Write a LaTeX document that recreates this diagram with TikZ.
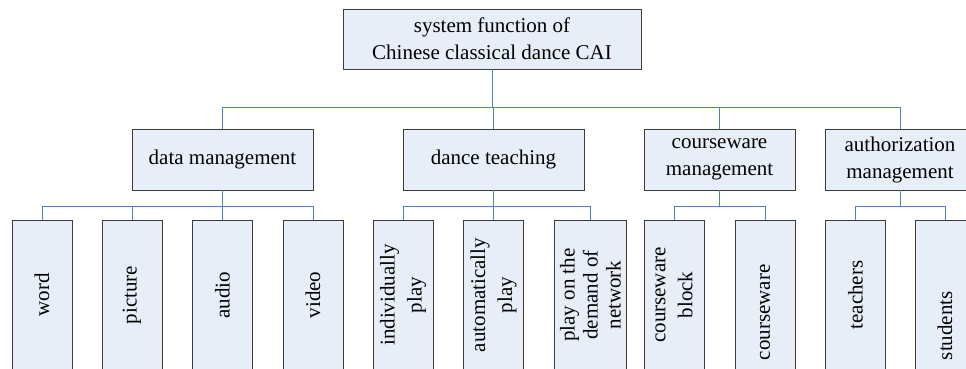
\documentclass[tikz,border=0pt]{standalone}
\usepackage{fontspec}
\setmainfont{Liberation Serif}
\usepackage{xcolor}
\usepackage{tikz}

\definecolor{boxfill}{RGB}{232,238,248}
\definecolor{boxline}{RGB}{60,60,60}
\definecolor{linkblue}{RGB}{79,129,189}

\begin{document}
\begin{tikzpicture}[x=1pt, y=1pt,
  box/.style={draw=boxline, fill=boxfill, line width=0.9pt, rectangle, align=center, inner sep=3pt, font=\fontsize{21}{27}\selectfont},
  leaf/.style={box, rotate=90, minimum width=150pt, minimum height=60pt},
  link/.style={draw=linkblue, line width=0.9pt}]
\useasboundingbox (0,0) rectangle (966,-368);
\clip (0,0) rectangle (966,-368);

% Nodes
\node[box, minimum width=298pt, minimum height=60pt] (sys) at (492,-39) {system function of\\Chinese classical dance CAI};
\node[box, minimum width=181pt, minimum height=61pt] (data) at (222.5,-159.5) {data management};
\node[box, minimum width=181pt, minimum height=61pt] (teach) at (493.5,-159.5) {dance teaching};
\node[box, minimum width=151pt, minimum height=61pt] (course) at (719.5,-159.5) {courseware\\management};
\node[box, minimum width=150pt, minimum height=61pt] (auth) at (900,-159.5) {authorization\\management};

\node[leaf] (word) at (42,-295) {word};
\node[leaf] (picture) at (132,-295) {picture};
\node[leaf] (audio) at (222.5,-295) {audio};
\node[leaf] (video) at (313,-295) {video};
\node[leaf] (indiv) at (403,-295) {individually\\play};
\node[leaf] (auto) at (493.5,-295) {automatically\\play};
\node[leaf, minimum height=72pt, font=\fontsize{21}{23}\selectfont] (demand) at (590.5,-295) {play on the\\demand of\\network};
\node[leaf] (block) at (674,-295) {courseware\\block};
\node[leaf, text width=130pt, align=left] (ware) at (765,-295) {courseware};
\node[leaf] (teachers) at (855.5,-295) {teachers};
\node[leaf, text width=130pt, align=left] (students) at (945,-295) {students};

% Connectors
\draw[link] (sys.south) -- ++(0,-38) -| (data.north);
\draw[link] (sys.south) -- ++(0,-38) -| (teach.north);
\draw[link] (sys.south) -- ++(0,-38) -| (course.north);
\draw[link] (sys.south) -- ++(0,-38) -| (auth.north);

\draw[link] (data.south) -- ++(0,-16) -| (word.east);
\draw[link] (data.south) -- ++(0,-16) -| (picture.east);
\draw[link] (data.south) -- ++(0,-16) -| (audio.east);
\draw[link] (data.south) -- ++(0,-16) -| (video.east);

\draw[link] (teach.south) -- ++(0,-16) -| (indiv.east);
\draw[link] (teach.south) -- ++(0,-16) -| (auto.east);
\draw[link] (teach.south) -- ++(0,-16) -| (demand.east);

\draw[link] (course.south) -- ++(0,-16) -| (block.east);
\draw[link] (course.south) -- ++(0,-16) -| (ware.east);

\draw[link] (auth.south) -- ++(0,-16) -| (teachers.east);
\draw[link] (auth.south) -- ++(0,-16) -| (students.east);
\end{tikzpicture}
\end{document}
